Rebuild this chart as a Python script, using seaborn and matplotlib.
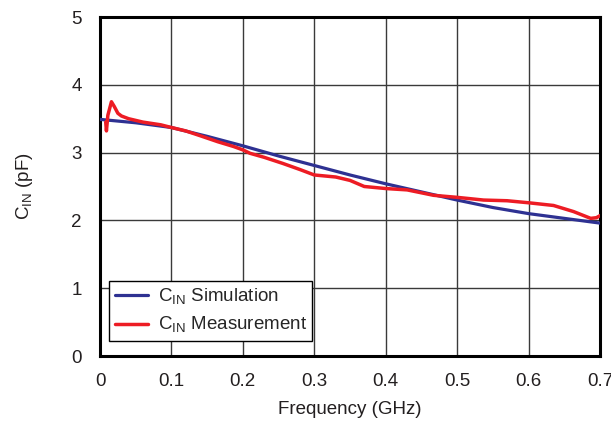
import matplotlib
matplotlib.use("Agg")
import matplotlib.pyplot as plt
import seaborn as sns
import pandas as pd

# ---- data ----
sim_freq = [0.0, 0.05, 0.1, 0.15, 0.2, 0.25, 0.3, 0.35, 0.4, 0.45, 0.5, 0.55, 0.6, 0.65, 0.7]
sim_cin = [3.49, 3.44, 3.37, 3.24, 3.10, 2.95, 2.81, 2.67, 2.54, 2.42, 2.30, 2.19, 2.10, 2.03, 1.96]

meas_freq = [0.008, 0.009, 0.011, 0.016, 0.02, 0.025, 0.03, 0.04, 0.06, 0.085, 0.1, 0.12,
             0.14, 0.165, 0.187, 0.2, 0.21, 0.23, 0.256, 0.28, 0.3, 0.33, 0.35, 0.37, 0.4,
             0.43, 0.467, 0.5, 0.537, 0.57, 0.6, 0.635, 0.663, 0.687, 0.695, 0.7]
meas_cin = [3.45, 3.32, 3.55, 3.75, 3.68, 3.58, 3.54, 3.50, 3.45, 3.41, 3.37, 3.32,
            3.25, 3.16, 3.09, 3.04, 2.99, 2.93, 2.84, 2.75, 2.67, 2.64, 2.59, 2.50, 2.47,
            2.45, 2.37, 2.34, 2.30, 2.29, 2.26, 2.22, 2.13, 2.03, 2.04, 2.07]

x_ticks = [0, 0.1, 0.2, 0.3, 0.4, 0.5, 0.6, 0.7]
x_tick_labels = ["0", "0.1", "0.2", "0.3", "0.4", "0.5", "0.6", "0.7"]
y_ticks = [0, 1, 2, 3, 4, 5]

sim_label = r"C$_{\mathregular{IN}}$ Simulation"
meas_label = r"C$_{\mathregular{IN}}$ Measurement"

sns.set_style("white")
plt.rcParams["font.family"] = ["Liberation Sans", "DejaVu Sans"]
plt.rcParams["mathtext.fontset"] = "custom"
plt.rcParams["mathtext.rm"] = "Liberation Sans"

fig = plt.figure(figsize=(6.11, 4.23), dpi=100)
ax = fig.add_axes([100 / 611, (423 - 356) / 423, 500 / 611, 339 / 423])

df_sim = pd.DataFrame({"f": sim_freq, "c": sim_cin})
df_meas = pd.DataFrame({"f": meas_freq, "c": meas_cin})

sns.lineplot(data=df_sim, x="f", y="c", ax=ax, color="#2e3192", lw=2.3, label=sim_label, zorder=3)
sns.lineplot(data=df_meas, x="f", y="c", ax=ax, color="#ed1c24", lw=2.5, label=meas_label, zorder=4)

ax.set_xlim(0, 0.7)
ax.set_ylim(0, 5)
ax.set_xticks(x_ticks)
ax.set_xticklabels(x_tick_labels)
ax.set_yticks(y_ticks)
ax.tick_params(length=0, labelsize=13.5, colors="#231f20")
ax.tick_params(axis="x", pad=12)
ax.tick_params(axis="y", pad=13)
ax.grid(True, color="#3a3a3a", lw=1.0)
ax.set_axisbelow(True)
for s in ax.spines.values():
    s.set_visible(True)
    s.set_color("black")
    s.set_linewidth(2.2)

ax.set_xlabel("Frequency (GHz)", fontsize=13.5, labelpad=8, color="#231f20")
ax.set_ylabel(r"C$_{\mathregular{IN}}$ (pF)", fontsize=13.5, labelpad=26, color="#231f20")

leg = ax.legend(loc="lower left", bbox_to_anchor=(0.018, 0.044), borderaxespad=0,
                fancybox=False, framealpha=1, edgecolor="black", fontsize=13.5,
                handlelength=1.8, handletextpad=0.5, borderpad=0.3, labelspacing=0.45)
leg.get_frame().set_linewidth(1.0)

fig.savefig("out.png", dpi=100)
